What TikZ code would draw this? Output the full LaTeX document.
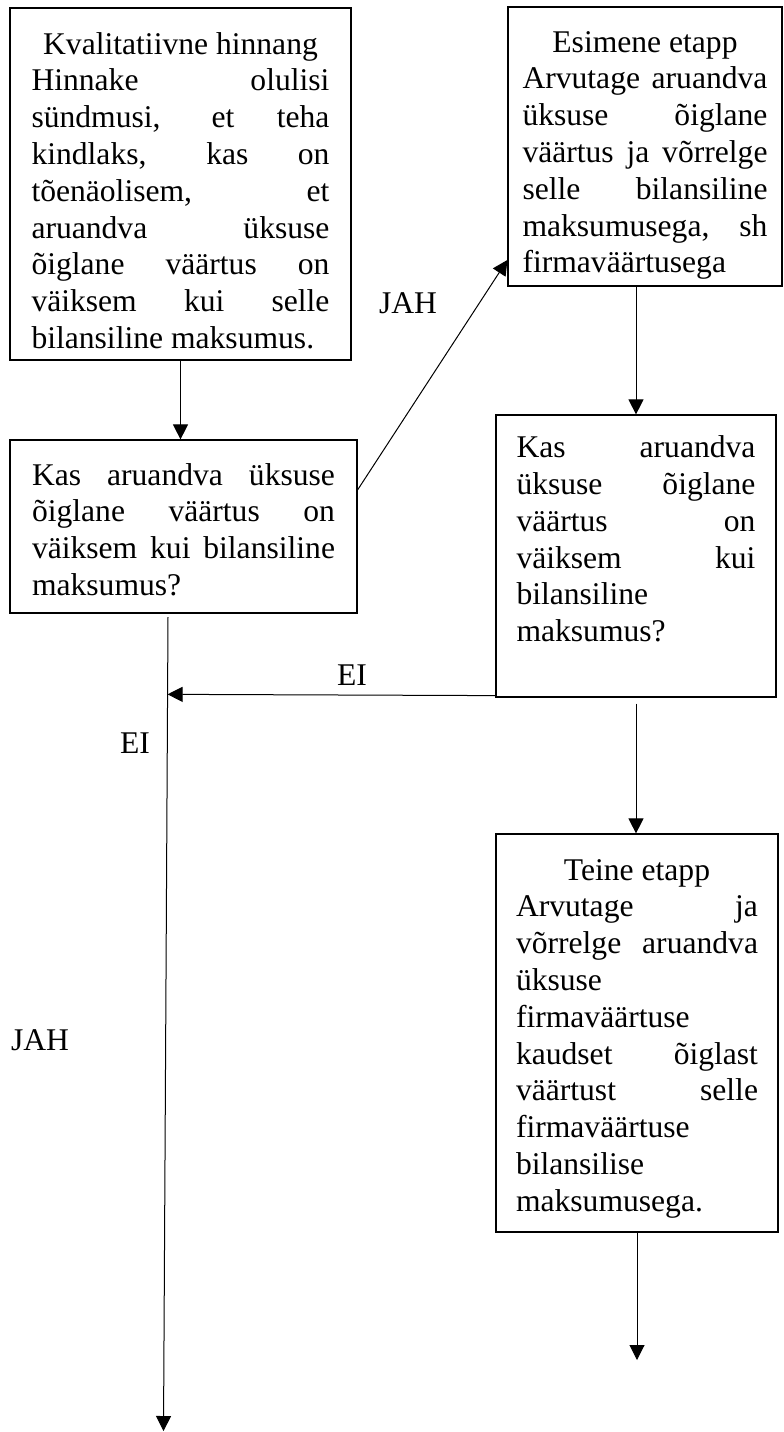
\documentclass[tikz,border=0pt]{standalone}
\usepackage{fontspec}
\setmainfont{Liberation Serif}
\usetikzlibrary{arrows.meta,calc}

% one justified line of a box (spaces stretched to the full width)
\newcommand\jl[1]{{\spaceskip=0pt\xspaceskip=0pt\makebox[\linewidth][s]{#1}}}
% a centred heading line
\newcommand\cl[1]{\makebox[\linewidth][c]{#1}}

\begin{document}
\begin{tikzpicture}[x=1pt,y=-1pt,
  txt/.style={font=\fontsize{31.6}{36.8}\selectfont},
  flowbox/.style={txt, draw=black, line width=1.2pt, align=left,
    inner sep=0pt, anchor=center,
    execute at begin node={\spaceskip=0pt\xspaceskip=0pt}},
  arr/.style={line width=1pt, -{Triangle[length=15pt,width=15pt]}},
  lab/.style={txt, inner sep=0pt}]

\useasboundingbox (0,0) rectangle (784,1432);

% boxes (text height pads the first line so the text sits a bit lower)
\node[flowbox, minimum width=341pt, minimum height=352pt, text width=298pt,
  text height=35pt]
  (qual) at (180.5,184) {%
  \cl{Kvalitatiivne hinnang}\\
  \jl{Hinnake olulisi}\\
  \jl{sündmusi, et teha}\\
  \jl{kindlaks, kas on}\\
  \jl{tõenäolisem, et}\\
  \jl{aruandva üksuse}\\
  \jl{õiglane väärtus on}\\
  \jl{väiksem kui selle}\\
  bilansiline maksumus.};

\node[flowbox, minimum width=347pt, minimum height=173pt, text width=303pt,
  text height=28pt]
  (ask1) at (183.5,526.5) {%
  \jl{Kas aruandva üksuse}\\
  \jl{õiglane väärtus on}\\
  \jl{väiksem kui bilansiline}\\
  maksumus?};

\node[flowbox, minimum width=274pt, minimum height=279pt, text width=245pt,
  text height=39pt]
  (stage1) at (645,146.5) {%
  \cl{Esimene etapp}\\
  \jl{Arvutage aruandva}\\
  \jl{üksuse õiglane}\\
  \jl{väärtus ja võrrelge}\\
  \jl{selle bilansiline}\\
  \jl{maksumusega, sh}\\
  firmaväärtusega};

\node[flowbox, minimum width=280pt, minimum height=282pt, text width=239pt,
  text height=24pt]
  (ask2) at (636,556) {%
  \jl{Kas aruandva}\\
  \jl{üksuse õiglane}\\
  \jl{väärtus on}\\
  \jl{väiksem kui}\\
  bilansiline\\
  maksumus?\\
  \mbox{}};

\node[flowbox, minimum width=282pt, minimum height=398pt, text width=242pt,
  text height=32pt]
  (stage2) at (637,1033) {%
  \cl{Teine etapp}\\
  \jl{Arvutage ja}\\
  \jl{võrrelge aruandva}\\
  üksuse\\
  firmaväärtuse\\
  \jl{kaudset õiglast}\\
  \jl{väärtust selle}\\
  firmaväärtuse\\
  bilansilise\\
  maksumusega.};

% free ends of the connectors
\coordinate (ltop) at (168,617);
\coordinate (lbot) at (163.5,1431);
\coordinate (ejoin) at ($(ltop)!0.095!(lbot)$);
\coordinate (out2) at (637,1360);
\coordinate (d1) at ($(ask1.north east)!0.29!(ask1.south east)$);
\coordinate (d2) at ($(stage1.north west)!0.905!(stage1.south west)$);

% connectors
\draw[arr] (qual.south) -- (qual.south |- ask1.north);
\draw[arr] (d1) -- (d2);
\draw[arr] (stage1.south -| ask2.north) -- (ask2.north);
\draw[arr] ($(ask2.south west)+(0,-2)$) -- (ejoin);
\draw[arr] ($(ask2.south)+(0,6)$) -- (ask2.south |- stage2.north);
\draw[arr] (stage2.south) -- (stage2.south |- out2);
\draw[arr] (ltop) -- (lbot);

% labels
\node[lab] (jah1) at (408,303) {JAH};
\node[lab] (ei1) at (352,675) {EI};
\node[lab] (ei2) at (135,743) {EI};
\node[lab] (jah2) at (40,1040) {JAH};

\end{tikzpicture}
\end{document}
